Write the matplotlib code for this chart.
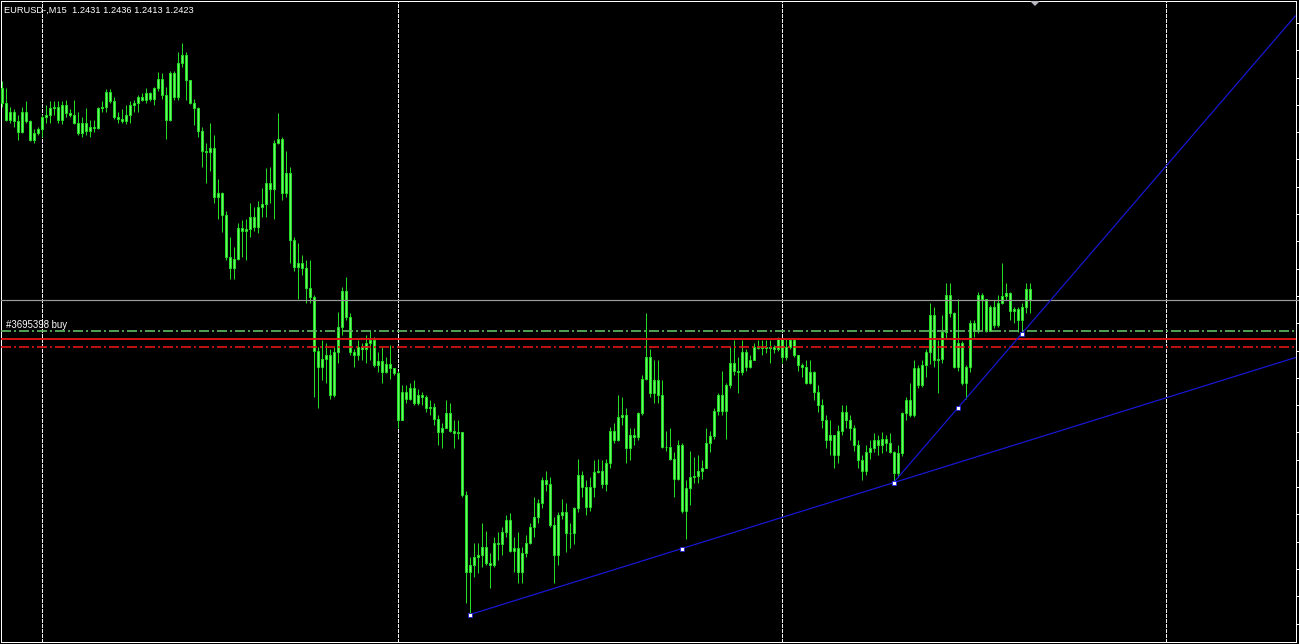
import numpy as np
import matplotlib
matplotlib.use("Agg")
import matplotlib.pyplot as plt
from matplotlib.patches import Polygon

plt.rcParams['lines.scale_dashes'] = False

W, H, DPI = 1299, 644, 100
PX = 72.0 / DPI  # points per pixel

# ---------------- texts ----------------
symbol_caption = "EURUSD-,M15  1.2431 1.2436 1.2413 1.2423"
order_caption = "#3695398 buy"

# ---------------- candle data (pips above 1.2000) ----------------
base_price = 1.2000
first_open_pips = 582
close_pips = [
    571, 558, 564, 557, 549, 564, 557, 543, 548, 551,
    560, 562, 567, 568, 558, 569, 563, 562, 556, 548,
    556, 550, 553, 552, 567, 568, 579, 572, 560, 559,
    557, 562, 569, 571, 575, 573, 578, 574, 582, 589,
    577, 558, 593, 575, 601, 607, 588, 571, 567, 550,
    535, 534, 537, 500, 503, 487, 455, 447, 454, 477,
    475, 476, 485, 478, 493, 495, 511, 506, 541, 544,
    503, 518, 468, 448, 451, 447, 432, 425, 385, 373,
    379, 382, 352, 384, 403, 430, 410, 384, 382, 388,
    386, 391, 393, 374, 377, 369, 375, 372, 368, 333,
    354, 349, 357, 346, 352, 350, 342, 343, 334, 324,
    327, 338, 325, 323, 324, 277, 219, 224, 230, 232,
    238, 226, 224, 241, 240, 249, 258, 235, 237, 219,
    233, 241, 253, 260, 271, 288, 285, 254, 232, 262,
    264, 248, 248, 267, 292, 283, 268, 283, 294, 295,
    285, 301, 325, 318, 335, 337, 312, 322, 320, 338,
    364, 380, 353, 363, 352, 313, 313, 304, 289, 314,
    265, 282, 290, 291, 295, 297, 316, 321, 340, 352,
    340, 359, 376, 370, 369, 384, 373, 378, 388, 387,
    388, 387, 388, 386, 394, 380, 388, 393, 382, 374,
    373, 361, 369, 354, 344, 333, 318, 322, 307, 325,
    339, 333, 327, 314, 303, 295, 309, 312, 318, 314,
    319, 316, 309, 293, 308, 338, 348, 337, 372, 359,
    374, 384, 412, 378, 379, 399, 427, 413, 373, 391,
    361, 373, 406, 400, 427, 424, 400, 418, 404, 421,
    426, 428, 415, 416, 408, 418, 431, 423,
]
high_pips = [
    587, 582, 568, 566, 562, 568, 572, 558, 551, 553,
    562, 569, 572, 572, 572, 572, 573, 566, 573, 564,
    560, 567, 558, 558, 568, 572, 581, 581, 575, 564,
    566, 569, 572, 573, 577, 578, 582, 579, 583, 594,
    593, 583, 595, 595, 609, 616, 609, 588, 574, 568,
    553, 541, 556, 547, 514, 504, 490, 470, 463, 481,
    483, 484, 496, 493, 497, 507, 522, 523, 543, 563,
    545, 535, 523, 470, 466, 457, 453, 453, 427, 388,
    393, 391, 386, 388, 414, 433, 440, 413, 386, 393,
    391, 397, 400, 395, 384, 388, 380, 389, 372, 370,
    359, 359, 361, 363, 356, 354, 352, 348, 346, 337,
    331, 348, 346, 333, 333, 324, 280, 230, 241, 241,
    256, 250, 233, 245, 249, 253, 262, 263, 245, 249,
    238, 247, 256, 275, 274, 290, 295, 290, 260, 264,
    274, 271, 256, 268, 304, 295, 288, 290, 303, 304,
    303, 304, 328, 331, 352, 350, 342, 327, 327, 339,
    367, 413, 386, 378, 378, 363, 325, 327, 309, 318,
    316, 288, 310, 305, 307, 303, 327, 325, 342, 353,
    370, 361, 388, 393, 380, 393, 386, 382, 391, 393,
    393, 393, 393, 389, 395, 394, 394, 394, 394, 382,
    376, 378, 378, 370, 359, 349, 337, 333, 322, 329,
    344, 344, 337, 329, 318, 307, 314, 318, 323, 322,
    324, 322, 323, 310, 314, 339, 350, 361, 378, 374,
    378, 386, 421, 418, 393, 412, 436, 436, 414, 424,
    392, 374, 408, 408, 429, 428, 424, 419, 423, 427,
    451, 436, 429, 418, 418, 421, 436, 436,
]
low_pips = [
    568, 557, 556, 553, 543, 548, 556, 542, 541, 547,
    545, 556, 556, 562, 556, 555, 560, 560, 555, 547,
    545, 547, 545, 549, 551, 564, 564, 571, 559, 556,
    556, 555, 556, 564, 564, 572, 571, 572, 569, 580,
    574, 544, 557, 573, 573, 598, 573, 570, 554, 545,
    523, 511, 520, 496, 484, 474, 453, 439, 439, 453,
    455, 453, 470, 475, 473, 485, 485, 496, 484, 540,
    498, 500, 451, 445, 424, 442, 421, 421, 350, 342,
    363, 361, 349, 350, 376, 397, 408, 382, 373, 378,
    378, 376, 378, 373, 369, 361, 368, 364, 367, 327,
    333, 346, 348, 344, 344, 344, 339, 337, 329, 314,
    312, 327, 324, 312, 319, 275, 196, 187, 215, 218,
    223, 224, 207, 223, 228, 232, 245, 234, 219, 211,
    211, 230, 240, 245, 256, 267, 280, 253, 211, 224,
    259, 234, 237, 240, 264, 275, 262, 265, 275, 293,
    282, 280, 297, 316, 317, 329, 301, 303, 314, 318,
    337, 363, 350, 346, 346, 312, 310, 303, 275, 288,
    263, 244, 269, 286, 286, 289, 297, 309, 319, 337,
    337, 319, 357, 367, 353, 367, 370, 372, 378, 386,
    382, 383, 376, 383, 385, 376, 378, 386, 380, 370,
    365, 360, 360, 348, 339, 327, 312, 307, 297, 301,
    322, 327, 318, 310, 297, 288, 292, 304, 309, 307,
    308, 310, 308, 286, 290, 306, 333, 335, 335, 357,
    358, 365, 375, 373, 353, 376, 394, 410, 372, 370,
    359, 349, 369, 395, 398, 400, 399, 400, 402, 403,
    420, 423, 408, 406, 399, 397, 413, 413,
]

# bars where a new trading day starts (vertical grid)
day_start_bars = [10, 99, 195, 291]

# horizontal levels
bid_price = 1.2423
order_price = 1.2400
level_price = 1.2394
stop_price = 1.2388

# trend lines (rays): anchor bars and prices
trend1_bars = [117, 223]
trend1_prices = [1.2187, 1.2286]
trend2_bars = [223, 255]
trend2_prices = [1.2286, 1.23975]

# price scale
price_tick_top = 1.26308
price_tick_step = 0.0020475
x_range = (-0.05, 323.55)
y_range = (1.21663, 1.2647)

# ---------------- colours ----------------
BG = '#000000'
FRAME = '#ffffff'
CANDLE_EDGE = '#22dd22'
CANDLE_FILL = '#6cf56c'
GRID = '#f0f0f0'
BID = '#9a9a9a'
ORDER = '#5fb85f'
RED = '#dc1414'
TREND = '#1818d8'

DASHDOT = (0, (10 * PX, 3 * PX, 2 * PX, 3 * PX))

# ---------------- figure ----------------
fig = plt.figure(figsize=(W / DPI, H / DPI), dpi=DPI, facecolor=BG)
ax = fig.add_axes([1.3 / W, 1 - 642.3 / H, (1295.7 - 1.3) / W, (642.3 - 1.3) / H])
ax.set_facecolor(BG)
ax.set_xlim(*x_range)
ax.set_ylim(*y_range)

c = base_price + np.array(close_pips) / 1e4
h = base_price + np.array(high_pips) / 1e4
l = base_price + np.array(low_pips) / 1e4
o = np.concatenate([[base_price + first_open_pips / 1e4], c[:-1]])
h = np.maximum(h, np.maximum(o, c))
l = np.minimum(l, np.minimum(o, c))
idx = np.arange(len(c))

# grid (day separators)
for b in day_start_bars:
    ax.axvline(b, color=GRID, lw=PX, ls=(0, (3 * PX, 2 * PX)),
               antialiased=False, zorder=1)

# candles
ax.vlines(idx, l, h, colors=CANDLE_EDGE, lw=PX, zorder=2)
ax.bar(idx, c - o, bottom=o, width=0.5, color=CANDLE_FILL,
       edgecolor=CANDLE_EDGE, linewidth=PX, zorder=3)

# horizontal levels
ax.axhline(bid_price, color=BID, lw=1.2 * PX, xmax=1.003, clip_on=False,
           zorder=4)
ax.axhline(order_price, color=ORDER, lw=1.7 * PX, ls=DASHDOT, zorder=4)
ax.axhline(level_price, color=RED, lw=1.9 * PX, zorder=4)
ax.axhline(stop_price, color=RED, lw=1.7 * PX, ls=DASHDOT, zorder=4)

ax.annotate(order_caption, xy=(0.0037, order_price),
            xycoords=('axes fraction', 'data'),
            xytext=(0, 3 * PX), textcoords='offset points',
            color='white', fontsize=6.9, family='Liberation Sans',
            va='baseline', ha='left', zorder=6)


def draw_ray(bars, prices):
    b1, b2 = bars
    p1, p2 = prices
    slope = (p2 - p1) / (b2 - b1)
    x_end = x_range[1]
    ax.plot([b1, x_end], [p1, p1 + slope * (x_end - b1)],
            color=TREND, lw=1.2 * PX, zorder=5, solid_capstyle='butt')
    pts_x = [b1, (b1 + b2) / 2, b2]
    pts_y = [p1, (p1 + p2) / 2, p2]
    ax.plot(pts_x, pts_y, ls='none', marker='s', ms=4 * PX,
            mfc='white', mec=TREND, mew=0.8 * PX, zorder=6)


draw_ray(trend1_bars, trend1_prices)
draw_ray(trend2_bars, trend2_prices)

# frame and price-scale ticks
for s in ax.spines.values():
    s.set_color(FRAME)
    s.set_linewidth(PX)
ax.set_xticks([])
ax.yaxis.tick_right()
ax.set_yticks(np.arange(price_tick_top, y_range[0], -price_tick_step))
ax.tick_params(axis='y', direction='out', length=4 * PX, width=PX,
               colors=FRAME, labelright=False, labelleft=False)

# header caption
fig.text(4 / W, 1 - 13 / H, symbol_caption, color='white', fontsize=6.7,
         family='Liberation Sans', va='baseline', ha='left')

# chart-shift marker
tri = np.array([[1030, 1], [1040, 1], [1035, 6]], dtype=float)
tri[:, 0] /= W
tri[:, 1] = 1 - tri[:, 1] / H
fig.patches.append(Polygon(tri, closed=True, transform=fig.transFigure,
                           facecolor='#b8b8c0', edgecolor='none'))

fig.savefig('out.png', dpi=DPI, facecolor=BG)
